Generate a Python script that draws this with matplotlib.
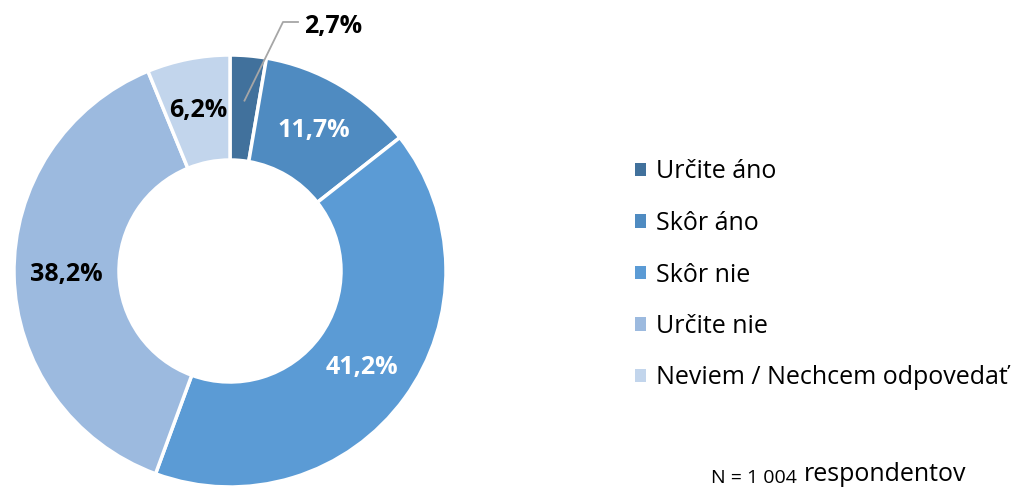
import numpy as np
import matplotlib.pyplot as plt
from matplotlib.patches import Patch

plt.rcParams['font.family'] = ['Open Sans', 'DejaVu Sans']

# data
categories = ['Určite áno', 'Skôr áno', 'Skôr nie', 'Určite nie', 'Neviem / Nechcem odpovedať']
values = [2.7, 11.7, 41.2, 38.2, 6.2]
labels = ['2,7%', '11,7%', '41,2%', '38,2%', '6,2%']
colors = ['#41719c', '#4f8bc1', '#5b9bd5', '#9cbadf', '#c2d5ec']
label_colors = ['black', 'white', 'white', 'black', 'black']

W, H = 1024, 488
fig = plt.figure(figsize=(W / 100, H / 100), dpi=100)
ax = fig.add_axes([0, 0, 1, 1])

cx, cy = 230, H - 271
R, r_in = 216, 111

wedges, _ = ax.pie(values, colors=colors, startangle=90, counterclock=False,
                   center=(cx, cy), radius=R, frame=True,
                   wedgeprops=dict(width=R - r_in, edgecolor='white', linewidth=2.5))
ax.set_xlim(0, W)
ax.set_ylim(0, H)
ax.set_aspect('equal')
ax.axis('off')

# data labels
rmid = (R + r_in) / 2
for i, w in enumerate(wedges):
    ang = np.deg2rad((w.theta1 + w.theta2) / 2)
    if i == 0:
        # small slice: label outside with leader line
        px = cx + 171 * np.cos(ang)
        py = cy + 171 * np.sin(ang)
        ax.plot([px, 283, 298], [py, H - 22, H - 22], color='#a6a6a6', lw=1.3)
        ax.text(304, H - 27, labels[i], fontsize=18, fontweight='bold',
                color=label_colors[i], ha='left', va='center')
    else:
        x = cx + rmid * np.cos(ang)
        y = cy + rmid * np.sin(ang)
        ax.text(x, y, labels[i], fontsize=18, fontweight='bold',
                color=label_colors[i], ha='center', va='center')

# legend
handles = [Patch(facecolor=c, edgecolor='none') for c in colors]
fig.legend(handles, categories, loc='center left', bbox_to_anchor=(612 / W, 1 - 275 / H),
           frameon=False, fontsize=18, handlelength=0.45, handleheight=0.45,
           handletextpad=0.42, labelspacing=1.06)

# sample size note
t1 = ax.text(711, 5, 'N = 1 004', fontsize=14, ha='left', va='baseline')
ax.annotate('respondentov', xy=(1, 0), xycoords=t1, xytext=(5, 0),
            textcoords='offset points', fontsize=18, ha='left', va='bottom')

fig.savefig('out.png', dpi=100)
